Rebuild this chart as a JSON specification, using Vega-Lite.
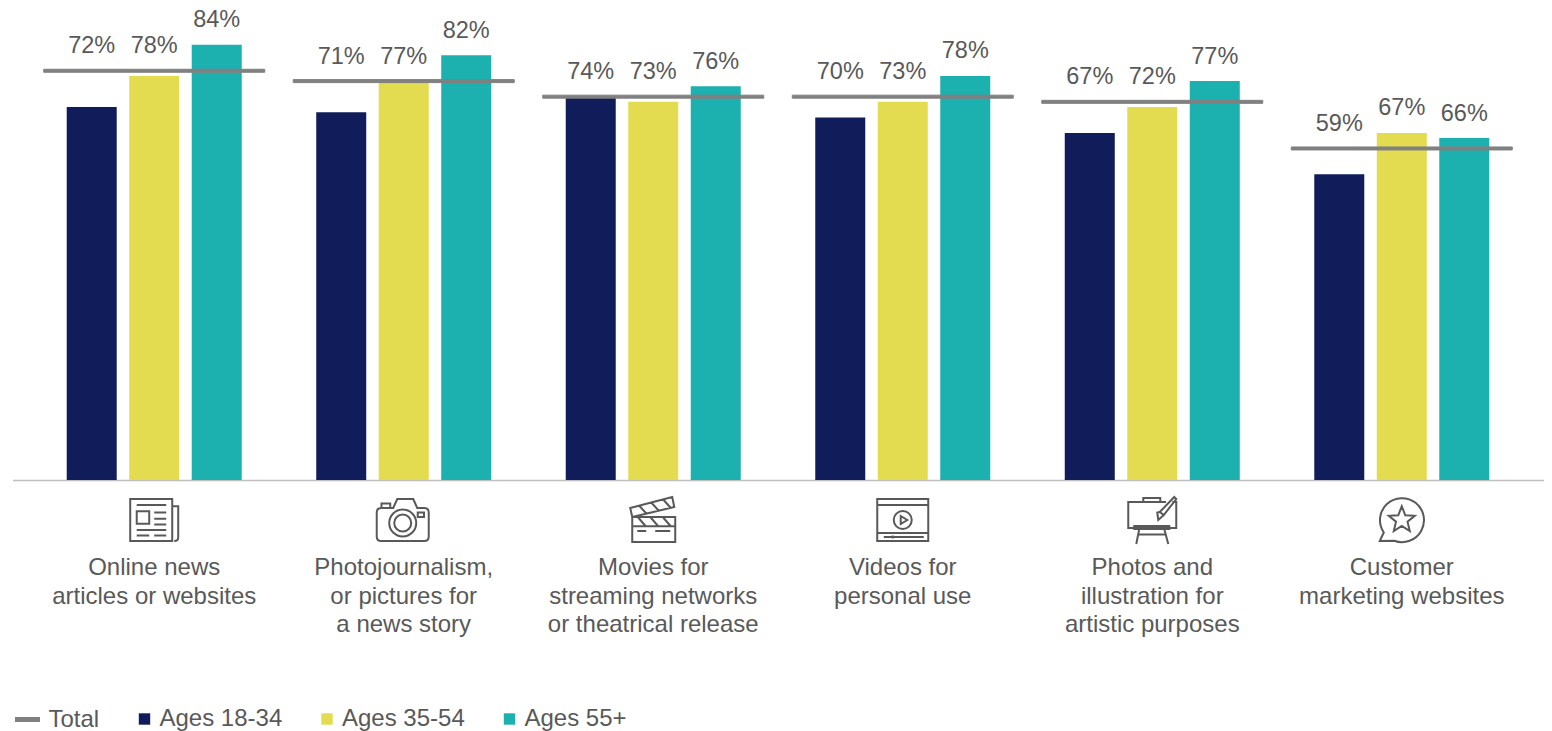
{
"$schema":"https://vega.github.io/schema/vega-lite/v6.json",
"width":1531,"height":480,
"autosize":{"type":"none"},
"padding":{"left":12.5,"top":0,"right":8.5,"bottom":251},
"background":"white",
"config":{"view":{"stroke":null},"font":"Liberation Sans"},
"datasets":{
"bars":[
{"category":"Online news|articles or websites","series":"Ages 18-34","value":0.72,"total":0.79},
{"category":"Online news|articles or websites","series":"Ages 35-54","value":0.78,"total":0.79},
{"category":"Online news|articles or websites","series":"Ages 55+","value":0.84,"total":0.79},
{"category":"Photojournalism,| or pictures for|a news story","series":"Ages 18-34","value":0.71,"total":0.77},
{"category":"Photojournalism,| or pictures for|a news story","series":"Ages 35-54","value":0.77,"total":0.77},
{"category":"Photojournalism,| or pictures for|a news story","series":"Ages 55+","value":0.82,"total":0.77},
{"category":"Movies for|streaming networks|or theatrical release","series":"Ages 18-34","value":0.74,"total":0.74},
{"category":"Movies for|streaming networks|or theatrical release","series":"Ages 35-54","value":0.73,"total":0.74},
{"category":"Movies for|streaming networks|or theatrical release","series":"Ages 55+","value":0.76,"total":0.74},
{"category":"Videos for|personal use","series":"Ages 18-34","value":0.70,"total":0.74},
{"category":"Videos for|personal use","series":"Ages 35-54","value":0.73,"total":0.74},
{"category":"Videos for|personal use","series":"Ages 55+","value":0.78,"total":0.74},
{"category":"Photos and|illustration for|artistic purposes","series":"Ages 18-34","value":0.67,"total":0.73},
{"category":"Photos and|illustration for|artistic purposes","series":"Ages 35-54","value":0.72,"total":0.73},
{"category":"Photos and|illustration for|artistic purposes","series":"Ages 55+","value":0.77,"total":0.73},
{"category":"Customer|marketing websites","series":"Ages 18-34","value":0.59,"total":0.64},
{"category":"Customer|marketing websites","series":"Ages 35-54","value":0.67,"total":0.64},
{"category":"Customer|marketing websites","series":"Ages 55+","value":0.66,"total":0.64}
],
"totals":[
{"category":"Online news|articles or websites","series":"Total","value":0.79},
{"category":"Photojournalism,| or pictures for|a news story","series":"Total","value":0.77},
{"category":"Movies for|streaming networks|or theatrical release","series":"Total","value":0.74},
{"category":"Videos for|personal use","series":"Total","value":0.74},
{"category":"Photos and|illustration for|artistic purposes","series":"Total","value":0.73},
{"category":"Customer|marketing websites","series":"Total","value":0.64}
]},
"encoding":{
"x":{"field":"category","type":"nominal","sort":null,
"scale":{"domain":["Online news|articles or websites","Photojournalism,| or pictures for|a news story","Movies for|streaming networks|or theatrical release","Videos for|personal use","Photos and|illustration for|artistic purposes","Customer|marketing websites"],"paddingInner":0,"paddingOuter":0.068},
"axis":{"title":null,"ticks":false,"labelAngle":0,"labelPadding":75.5,"labelFontSize":24,"labelColor":"#595959","labelFont":"Liberation Sans","labelLineHeight":28.5,"labelLimit":0,"labelOverlap":false,"labelBound":false,"labelFlush":false,"labelBaseline":"top","domainColor":"#BFBFBF","domainWidth":1.5,"labelExpr":"split(datum.value,'|')"}}
},
"layer":[
{"data":{"name":"bars"},
"mark":{"type":"bar","width":50},
"encoding":{
"xOffset":{"field":"series","type":"nominal","scale":{"domain":["Ages 18-34","Ages 35-54","Ages 55+"],"paddingInner":0.2,"paddingOuter":0.596}},
"y":{"field":"value","type":"quantitative","scale":{"domain":[0,0.9266],"nice":false,"zero":false},"axis":null},
"fill":{"field":"series","type":"nominal","scale":{"domain":["Ages 18-34","Ages 35-54","Ages 55+"],"range":["#111C5B","#E3DC50","#1CB0AE"]},
"legend":{"title":null,"orient":"none","direction":"horizontal","legendX":120,"legendY":707,"symbolType":"square","symbolSize":130,"symbolStrokeWidth":0,"labelFontSize":24,"labelColor":"#595959","labelFont":"Liberation Sans","labelOffset":3,"columnPadding":32.5,"labelLimit":0}}
}},
{"data":{"name":"totals"},
"mark":{"type":"tick","size":221,"thickness":3,"fill":"#808080","strokeWidth":1,"opacity":1},
"encoding":{
"y":{"field":"value","type":"quantitative"},
"stroke":{"field":"series","type":"nominal","scale":{"domain":["Total"],"range":["#808080"]},
"legend":{"title":null,"orient":"none","direction":"horizontal","legendX":0,"legendY":704.5,"symbolType":"M-1,0H1","symbolSize":625,"symbolStrokeWidth":5,"labelFontSize":24,"labelColor":"#595959","labelFont":"Liberation Sans","labelOffset":6,"labelLimit":0}}
}},
{"data":{"name":"bars"},
"transform":[{"calculate":"max(datum.value,datum.total)","as":"top"}],
"mark":{"type":"text","dy":-24.5,"baseline":"middle","align":"center","fontSize":23.5,"color":"#595959","font":"Liberation Sans"},
"encoding":{
"xOffset":{"field":"series","type":"nominal"},
"y":{"field":"top","type":"quantitative"},
"text":{"field":"value","type":"quantitative","format":".0%"}
}},
{"data":{"name":"totals"},
"mark":{"type":"point","filled":false,"stroke":"#595959","strokeWidth":2,"size":2500,"opacity":1},
"encoding":{
"y":{"datum":-0.0772,"type":"quantitative"},
"shape":{"field":"category","type":"nominal","legend":null,"scale":{"domain":["Online news|articles or websites","Photojournalism,| or pictures for|a news story","Movies for|streaming networks|or theatrical release","Videos for|personal use","Photos and|illustration for|artistic purposes","Customer|marketing websites"],
"range":[
"M-0.96,-0.84H0.72V0.84H-0.96ZM0.72,-0.55H0.96V0.7Q0.96,0.84 0.8,0.84M-0.7,-0.6H0.48M-0.7,-0.35H-0.2V0.15H-0.7ZM0,-0.3H0.48M0,-0.05H0.48M0,0.18H0.48M-0.7,0.4H0.48M-0.7,0.62H-0.2M0,0.62H0.48",
"M-1.08,-0.3Q-1.08,-0.48 -0.9,-0.48H-0.42L-0.26,-0.84H0.38L0.54,-0.48H0.82Q1,-0.48 1,-0.3V0.66Q1,0.84 0.82,0.84H-0.9Q-1.08,0.84 -1.08,0.66ZM-0.89,-0.48V-0.66H-0.54V-0.48M-0.58,0.12A0.54,0.54 0 1 1 0.5,0.12A0.54,0.54 0 1 1 -0.58,0.12ZM-0.38,0.12A0.34,0.34 0 1 1 0.3,0.12A0.34,0.34 0 1 1 -0.38,0.12ZM0.56,-0.3H0.81V-0.12H0.56Z",
"M-0.92,-0.48L0.76,-0.92L0.84,-0.52L-0.84,-0.12ZM-0.84,-0.12H0.88V0.88H-0.84ZM-0.84,0.25H0.88M-0.64,0.44H-0.28M0.08,0.44H0.68M-0.62,-0.12L-0.3,0.25M-0.12,-0.12L0.2,0.25M0.38,-0.12L0.7,0.25M-0.56,-0.57L-0.24,-0.22M-0.08,-0.7L0.24,-0.35M0.4,-0.82L0.7,-0.48",
"M-1.02,-0.84H1.02V0.84H-1.02ZM-1.02,-0.6H1.02M-1.02,0.52H1.02M-0.36,0A0.36,0.36 0 1 1 0.36,0A0.36,0.36 0 1 1 -0.36,0ZM-0.08,-0.16L0.18,0L-0.08,0.16ZM-0.76,0.68H0.84M-0.4,0.62V0.74",
"M0.55,-0.72H-0.96V0.32H0.96V-0.72H0.8M-0.36,-0.72V-0.88H0.32V-0.72M-0.72,0.24H0.68V0.36H-0.72ZM-0.52,0.36L-0.64,0.96M0.48,0.36L0.64,0.96M-0.58,0.58H0.56M0.88,-0.92L0.96,-0.84L0.46,-0.2L0.3,-0.32ZM0.46,-0.2L0.24,0L0.2,-0.3L0.3,-0.32",
"M-0.72,0.5L-0.88,0.84L-0.3,0.83A0.88,0.88 0 1 0 -0.72,0.5ZM0,-0.55L0.14,-0.19L0.52,-0.17L0.23,0.07L0.32,0.44L0,0.24L-0.32,0.44L-0.23,0.07L-0.52,-0.17L-0.14,-0.19Z"
]}}
}}
]
}
